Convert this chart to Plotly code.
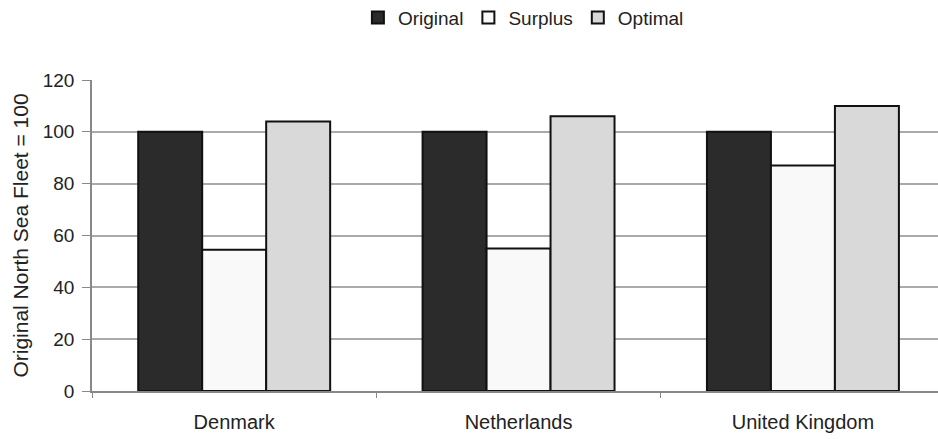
import plotly.graph_objects as go

countries = ["Denmark", "Netherlands", "United Kingdom"]
original = [100, 100, 100]
surplus = [54.5, 55, 87]
optimal = [104, 106, 110]

series = [
    ("Original", original, "#2b2b2b"),
    ("Surplus", surplus, "#f9f9f9"),
    ("Optimal", optimal, "#d9d9d9"),
]

fig = go.Figure()
for name, vals, color in series:
    fig.add_trace(go.Bar(
        name=name, x=countries, y=vals,
        marker=dict(color=color, line=dict(color="#111111", width=2)),
    ))

font_family = "Liberation Sans, Arial, sans-serif"

fig.update_layout(
    width=938, height=439,
    margin=dict(l=92, r=0, t=80, b=48),
    paper_bgcolor="white", plot_bgcolor="white",
    barmode="group", bargap=0.325, bargroupgap=0,
    font=dict(family=font_family, color="#222222", size=18),
    legend=dict(
        orientation="h", xref="container", yref="container",
        x=0.558, y=0.96, xanchor="center", yanchor="middle",
        font=dict(size=19), itemwidth=30, traceorder="normal",
    ),
    xaxis=dict(
        range=[-0.5, 2.475],
        showline=True, linecolor="#888888", linewidth=1.5,
        ticks="outside", tickson="boundaries", ticklen=5, tickcolor="#888888",
        tickfont=dict(size=20, color="#222222"),
        ticklabelstandoff=12,
        showgrid=False,
    ),
    yaxis=dict(
        range=[0, 120], tickvals=[0, 20, 40, 60, 80, 100, 120],
        showline=True, linecolor="#888888", linewidth=1.5,
        ticks="outside", ticklen=8, tickcolor="#888888",
        ticklabelstandoff=4,
        showgrid=True, gridcolor="#aaaaaa", gridwidth=1.5,
        zeroline=False,
        tickfont=dict(size=19, color="#222222"),
        title=dict(text="Original North Sea Fleet = 100", font=dict(size=21), standoff=8),
    ),
)

fig.write_html("out.html")
